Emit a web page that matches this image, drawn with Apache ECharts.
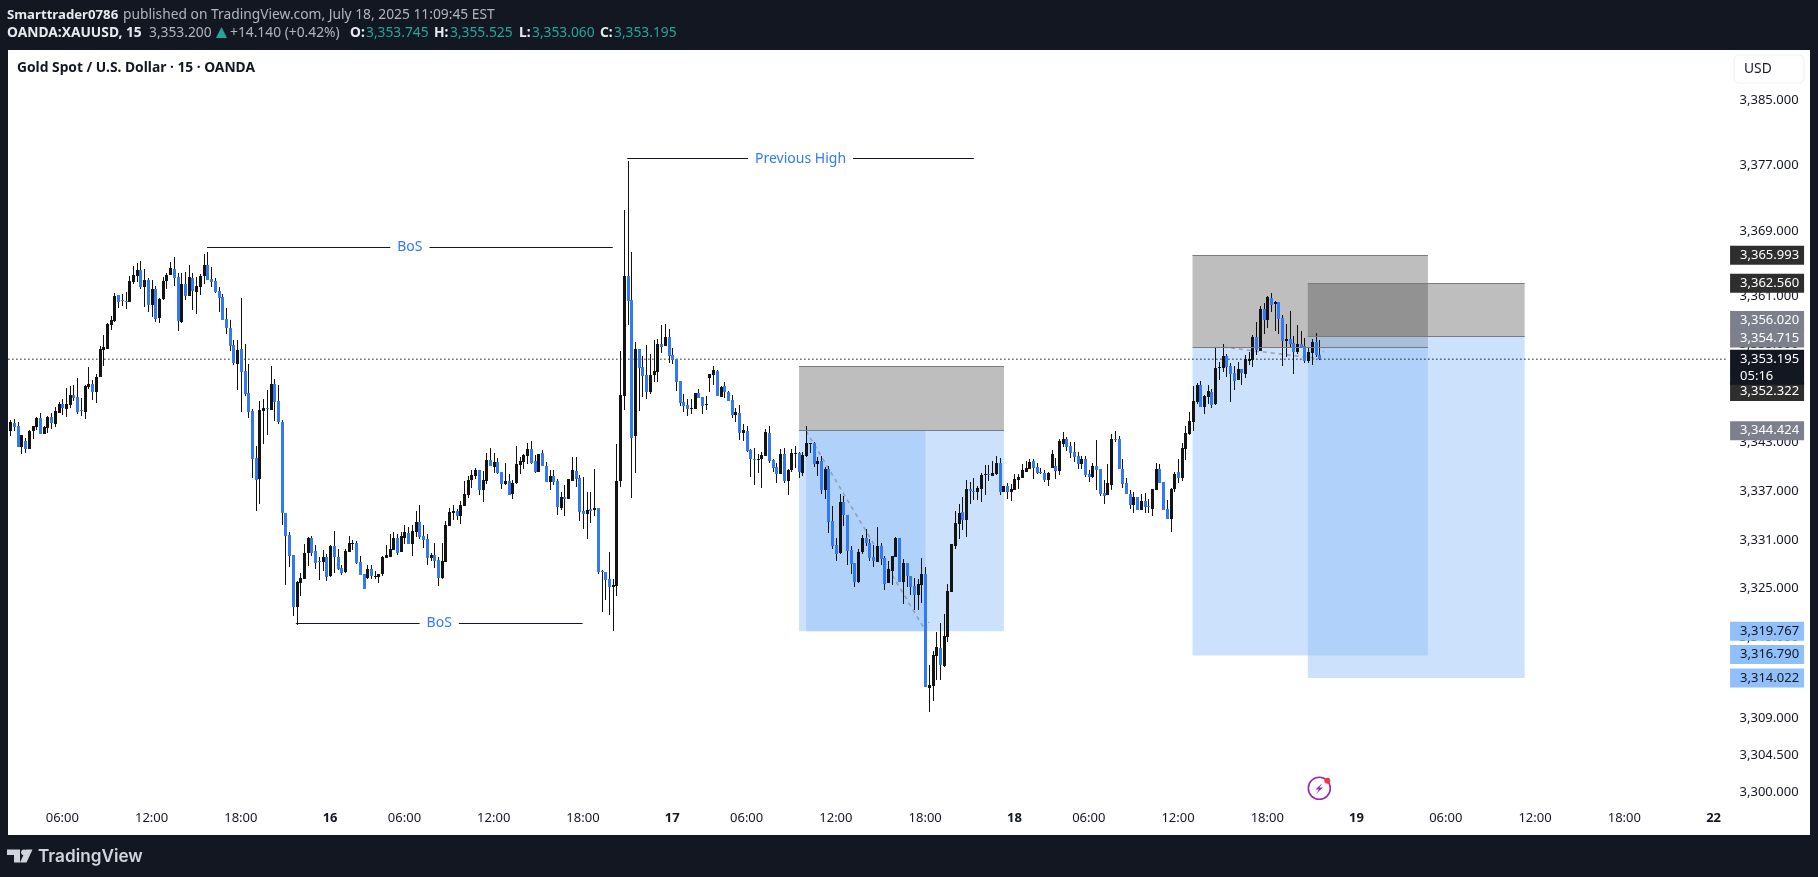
<!DOCTYPE html>
<html>
<head>
<meta charset="utf-8">
<title>Gold Spot / U.S. Dollar</title>
<script src="https://cdn.jsdelivr.net/npm/echarts@6/dist/echarts.min.js"></script>
<style>
html,body{margin:0;padding:0;background:#131722;}
#main{width:1818px;height:877px;}
</style>
</head>
<body>
<div id="main"></div>
<script>
// 15 minute candles, one line = 10 bars
var candleOpen=[
3344.4,3345.4,3345.0,3342.4,3343.1,3342.2,3344.4,3344.9,3346.0,3344.0,
3344.7,3346.1,3345.2,3346.6,3347.7,3347.1,3347.6,3348.8,3348.6,3347.0,
3346.7,3349.8,3350.2,3349.2,3351.0,3354.4,3354.5,3357.4,3357.9,3361.1,
3360.5,3360.4,3360.2,3362.7,3363.4,3364.2,3362.1,3363.0,3359.9,3361.8,
3358.3,3360.6,3362.8,3363.6,3364.3,3363.3,3357.8,3362.5,3361.0,3363.2,
3361.5,3362.1,3363.4,3364.8,3363.1,3362.8,3361.6,3360.9,3358.2,3357.0,
3355.0,3352.6,3354.5,3351.8,3349.1,3346.8,3341.1,3338.5,3346.8,3347.2,
3347.0,3350.2,3348.1,3345.5,3334.3,3331.6,3329.1,3322.7,3325.7,3326.2,
3329.4,3331.2,3329.6,3328.4,3328.3,3328.9,3326.6,3330.2,3328.9,3327.5,
3327.0,3329.5,3330.5,3330.6,3328.3,3326.8,3326.3,3327.4,3326.5,3326.4,
3326.8,3328.8,3328.9,3329.7,3331.2,3329.5,3331.2,3331.8,3330.5,3332.0,
3333.2,3331.5,3331.1,3328.8,3329.1,3328.5,3326.3,3328.3,3332.7,3334.3,
3334.5,3333.9,3335.2,3336.5,3338.4,3338.8,3339.6,3337.1,3338.2,3340.8,
3340.0,3340.6,3339.3,3337.9,3338.2,3336.6,3338.0,3340.2,3340.6,3341.3,
3342.2,3340.7,3339.3,3341.7,3340.1,3338.1,3338.8,3338.2,3334.9,3336.3,
3336.0,3338.2,3339.5,3338.6,3334.5,3334.2,3334.8,3334.7,3334.9,3327.2,
3327.0,3326.2,3325.2,3325.3,3338.2,3348.7,3363.4,3360.5,3343.8,3354.5,
3352.3,3351.3,3349.2,3351.3,3351.6,3355.1,3354.8,3355.9,3353.7,3353.2,
3350.5,3347.9,3347.6,3347.1,3347.1,3349.0,3348.6,3347.6,3350.9,3351.3,
3351.8,3348.6,3349.9,3349.2,3348.2,3346.3,3346.6,3344.1,3344.4,3342.0,
3340.9,3340.8,3340.9,3341.3,3344.1,3340.8,3339.9,3339.1,3341.5,3338.2,
3339.6,3341.6,3341.7,3339.2,3341.3,3342.8,3342.9,3340.3,3340.7,3337.1,
3339.7,3333.3,3330.4,3329.4,3335.7,3334.1,3329.8,3328.2,3325.8,3329.5,
3331.2,3330.6,3328.9,3328.3,3330.2,3328.8,3325.7,3327.2,3328.9,3331.2,
3325.8,3328.2,3326.6,3325.3,3324.2,3325.4,3326.8,3312.8,3313.0,3316.7,
3317.7,3315.5,3319.0,3324.6,3330.2,3332.9,3334.4,3333.4,3337.3,3337.0,
3336.9,3337.3,3339.0,3339.1,3338.8,3339.1,3340.5,3336.9,3337.6,3336.9,
3337.1,3338.4,3338.6,3339.3,3339.7,3340.7,3340.0,3339.3,3339.2,3338.4,
3339.8,3340.1,3339.5,3342.8,3343.4,3342.5,3341.8,3341.3,3340.3,3340.9,
3339.1,3338.7,3340.1,3339.7,3336.8,3336.5,3337.7,3343.4,3343.4,3339.7,
3338.0,3336.6,3335.3,3336.3,3334.7,3335.8,3335.2,3334.8,3337.1,3339.7,
3338.1,3334.8,3333.6,3337.2,3339.3,3338.6,3342.2,3344.0,3345.5,3348.0,
3350.0,3347.3,3348.6,3349.2,3347.7,3352.1,3352.1,3353.6,3352.4,3351.5,
3350.7,3352.0,3351.4,3353.0,3353.1,3355.9,3354.2,3359.4,3358.0,3360.7,
3360.0,3360.2,3358.3,3355.5,3355.7,3355.2,3354.1,3355.1,3354.8,3353.0,
3354.0,3355.3,3353.745];
var candleHigh=[
3345.7,3345.9,3345.5,3343.9,3343.5,3344.5,3345.0,3346.1,3346.6,3345.0,
3346.2,3346.6,3347.3,3348.0,3348.3,3349.7,3349.9,3350.0,3350.9,3348.4,
3350.0,3352.2,3350.7,3351.4,3354.8,3356.2,3357.7,3358.5,3361.4,3361.1,
3361.2,3361.5,3363.4,3364.7,3365.0,3365.3,3364.3,3363.2,3363.0,3362.2,
3360.7,3363.3,3363.8,3365.2,3365.8,3363.8,3363.8,3363.9,3364.8,3363.8,
3363.3,3363.7,3366.1,3366.4,3364.5,3363.2,3362.1,3361.2,3359.5,3358.0,
3355.6,3355.6,3360.7,3355.1,3352.6,3347.1,3342.5,3348.1,3348.3,3349.4,
3352.4,3350.8,3350.0,3345.7,3334.3,3332.0,3329.1,3325.9,3326.9,3330.5,
3331.3,3331.5,3330.4,3328.9,3329.7,3329.3,3330.4,3332.1,3329.9,3327.9,
3329.9,3331.5,3331.0,3330.9,3329.0,3326.8,3327.9,3327.9,3327.2,3326.8,
3329.0,3330.4,3331.7,3332.0,3331.7,3332.0,3332.8,3332.6,3332.8,3334.5,
3335.3,3332.8,3331.7,3329.4,3330.6,3328.9,3330.6,3333.3,3334.9,3335.3,
3334.8,3335.8,3338.2,3338.8,3339.6,3339.8,3339.6,3339.5,3341.7,3342.3,
3341.7,3341.1,3339.3,3340.4,3339.1,3338.4,3342.5,3341.2,3341.6,3342.9,
3343.2,3341.4,3341.6,3342.1,3340.6,3339.6,3339.6,3338.5,3336.9,3337.7,
3338.5,3341.2,3341.2,3339.0,3338.7,3336.9,3336.9,3339.7,3334.9,3327.3,
3327.0,3329.5,3326.2,3342.8,3354.2,3371.6,3377.6,3366.4,3355.3,3354.5,
3353.6,3354.9,3353.9,3355.6,3355.7,3357.4,3357.5,3356.9,3354.6,3353.2,
3350.5,3348.9,3348.3,3348.3,3349.0,3349.5,3348.6,3348.7,3351.4,3352.4,
3351.9,3349.9,3350.4,3349.3,3348.8,3347.2,3347.6,3345.2,3345.0,3342.2,
3342.3,3341.5,3341.8,3344.6,3345.0,3340.9,3340.4,3342.2,3342.3,3339.7,
3342.2,3342.5,3341.8,3341.8,3345.0,3342.9,3343.0,3341.2,3341.3,3339.9,
3340.1,3335.2,3331.2,3336.6,3336.4,3334.1,3330.2,3328.2,3329.9,3331.6,
3332.3,3331.1,3330.4,3332.6,3330.6,3329.0,3328.4,3329.0,3331.3,3331.2,
3328.6,3328.2,3326.6,3326.3,3326.2,3328.8,3327.7,3315.6,3317.3,3319.7,
3320.8,3321.9,3325.6,3330.5,3334.5,3335.4,3336.3,3338.4,3338.1,3338.6,
3337.6,3339.2,3340.2,3340.2,3340.7,3341.3,3341.1,3337.6,3338.0,3337.9,
3339.1,3339.1,3340.3,3340.7,3340.9,3340.9,3340.5,3339.8,3339.6,3339.3,
3342.0,3341.1,3343.4,3344.3,3343.6,3343.0,3343.0,3341.8,3341.3,3341.3,
3339.6,3340.5,3343.3,3339.7,3338.4,3340.3,3344.0,3344.4,3343.8,3340.9,
3338.6,3337.1,3336.9,3336.3,3336.6,3336.8,3336.0,3337.3,3340.5,3340.3,
3338.1,3335.9,3337.4,3339.3,3340.9,3342.9,3345.0,3346.7,3349.9,3350.3,
3350.5,3348.8,3350.0,3349.5,3354.7,3352.9,3355.1,3353.9,3352.7,3352.4,
3352.9,3352.0,3353.7,3354.1,3356.2,3357.8,3359.8,3360.1,3361.0,3361.4,
3360.4,3360.2,3358.6,3357.5,3359.1,3356.1,3357.4,3356.7,3355.8,3354.6,
3355.7,3356.4,3355.525];
var candleLow=[
3343.8,3344.4,3342.4,3341.5,3341.7,3342.2,3343.4,3344.5,3344.0,3344.0,
3344.1,3344.6,3344.9,3346.6,3346.3,3346.1,3347.2,3348.1,3346.5,3346.2,
3345.9,3349.5,3348.2,3347.8,3351.0,3352.4,3354.5,3356.8,3357.8,3359.5,
3359.8,3359.4,3360.2,3362.5,3362.7,3361.8,3359.6,3359.0,3358.4,3357.8,
3357.7,3360.5,3361.8,3363.6,3362.2,3356.7,3357.7,3360.5,3361.0,3359.3,
3358.8,3361.1,3362.5,3363.0,3362.1,3361.4,3359.0,3358.0,3356.3,3354.2,
3352.5,3349.4,3346.7,3348.7,3346.0,3338.6,3334.5,3335.4,3342.8,3343.9,
3347.0,3345.6,3345.2,3332.8,3325.5,3327.7,3321.6,3320.5,3324.1,3326.2,
3327.8,3329.0,3327.4,3326.1,3327.2,3325.9,3326.4,3326.9,3327.3,3326.7,
3326.9,3329.5,3329.7,3328.0,3326.7,3324.9,3326.2,3326.2,3326.2,3325.7,
3326.6,3328.8,3328.9,3329.7,3329.1,3329.5,3330.5,3330.5,3329.0,3331.3,
3331.1,3330.0,3327.9,3328.4,3327.5,3325.3,3326.2,3328.3,3332.7,3333.4,
3333.4,3332.9,3335.2,3336.1,3337.4,3338.5,3336.5,3335.6,3337.9,3340.1,
3339.2,3339.1,3337.3,3337.7,3336.5,3336.0,3337.9,3339.1,3339.7,3340.3,
3340.3,3339.2,3339.3,3340.1,3338.1,3337.1,3337.7,3334.1,3334.7,3333.9,
3336.0,3338.2,3337.5,3333.3,3332.3,3331.1,3333.1,3333.9,3326.8,3322.1,
3323.6,3321.8,3319.8,3324.1,3337.5,3347.0,3357.4,3336.1,3339.2,3346.8,
3348.6,3348.3,3348.9,3350.4,3350.4,3354.0,3354.8,3352.7,3352.6,3349.3,
3347.4,3346.7,3346.2,3346.5,3347.1,3348.4,3346.5,3347.0,3349.2,3350.0,
3348.7,3348.6,3348.4,3348.1,3346.0,3345.5,3343.3,3343.1,3341.8,3338.7,
3337.7,3339.2,3337.4,3341.3,3340.4,3339.3,3338.0,3339.1,3338.0,3336.5,
3339.4,3339.8,3338.6,3338.8,3341.2,3341.7,3339.9,3338.8,3336.6,3336.0,
3331.8,3329.9,3328.4,3329.3,3332.7,3327.9,3326.8,3325.2,3325.7,3329.3,
3330.2,3328.4,3327.7,3328.3,3327.9,3324.8,3325.7,3325.4,3328.9,3325.8,
3323.1,3325.2,3324.2,3322.4,3322.4,3323.2,3312.9,3309.8,3311.2,3313.8,
3313.8,3315.4,3318.4,3324.6,3329.9,3331.1,3332.2,3331.3,3335.4,3335.9,
3335.9,3335.7,3336.5,3338.2,3338.8,3339.0,3336.5,3336.9,3336.0,3335.8,
3337.1,3337.3,3338.6,3339.3,3339.7,3338.5,3339.1,3339.1,3338.1,3337.6,
3339.8,3338.5,3339.0,3342.4,3341.9,3341.1,3340.6,3339.7,3339.7,3338.7,
3338.1,3338.6,3337.1,3336.4,3335.4,3336.5,3337.1,3343.0,3339.7,3337.4,
3336.6,3334.8,3334.3,3334.7,3334.7,3334.3,3334.3,3333.9,3337.1,3338.0,
3334.7,3333.6,3332.0,3336.9,3338.0,3338.3,3340.8,3343.9,3344.4,3347.7,
3347.3,3346.5,3347.7,3347.2,3347.6,3350.7,3351.6,3351.0,3347.9,3349.4,
3350.7,3350.0,3350.9,3352.5,3352.2,3353.7,3354.2,3356.3,3357.0,3359.0,
3356.7,3356.3,3352.4,3353.5,3354.7,3351.4,3353.9,3354.6,3352.7,3352.7,
3352.5,3353.5,3353.06];
var candleClose=[
3345.5,3344.9,3342.4,3343.9,3342.2,3344.4,3345.0,3346.0,3344.0,3344.9,
3346.1,3345.4,3346.8,3347.7,3347.2,3347.7,3348.8,3348.4,3346.7,3346.8,
3349.9,3350.2,3349.2,3351.0,3354.5,3354.7,3357.5,3358.0,3361.0,3360.2,
3360.4,3360.2,3362.8,3363.6,3364.2,3362.1,3363.0,3359.9,3361.8,3358.2,
3360.6,3362.8,3363.6,3364.4,3363.2,3357.9,3362.5,3361.0,3363.3,3361.6,
3362.2,3363.4,3364.8,3363.0,3362.7,3361.5,3360.7,3358.0,3357.0,3354.8,
3352.7,3354.3,3351.6,3348.9,3346.7,3340.9,3338.4,3347.0,3347.2,3347.1,
3350.2,3347.9,3345.5,3334.3,3331.5,3329.0,3322.7,3325.8,3326.3,3329.4,
3331.2,3329.4,3328.1,3328.3,3328.9,3326.4,3330.2,3328.9,3327.4,3326.9,
3329.6,3330.6,3330.6,3328.1,3326.7,3324.9,3327.4,3326.6,3326.6,3326.8,
3328.9,3329.1,3329.9,3331.2,3329.4,3331.5,3332.0,3330.5,3332.1,3333.2,
3331.3,3331.0,3328.8,3329.1,3328.4,3326.3,3328.4,3332.8,3334.4,3334.5,
3333.9,3335.3,3336.6,3338.4,3339.0,3339.6,3337.1,3338.4,3340.8,3340.1,
3340.6,3339.2,3337.9,3338.2,3336.5,3338.0,3340.3,3340.7,3341.4,3342.2,
3340.5,3339.3,3341.6,3340.1,3338.1,3338.8,3338.1,3335.0,3336.3,3336.0,
3338.5,3339.6,3338.5,3334.4,3334.2,3334.7,3334.5,3334.9,3327.0,3327.0,
3326.1,3325.2,3325.5,3338.2,3348.8,3363.4,3360.4,3343.5,3354.5,3352.1,
3351.1,3349.2,3351.3,3351.8,3355.1,3354.7,3355.9,3353.6,3353.1,3350.4,
3347.8,3347.4,3347.1,3347.2,3349.0,3348.4,3347.4,3347.7,3351.4,3351.9,
3348.7,3349.8,3349.2,3348.1,3346.3,3346.7,3344.1,3344.5,3341.9,3340.9,
3340.8,3340.9,3341.4,3344.3,3340.7,3339.8,3339.1,3341.5,3338.2,3339.6,
3341.7,3341.7,3339.3,3341.4,3342.9,3342.9,3340.3,3340.7,3337.1,3339.7,
3333.2,3330.2,3329.3,3335.7,3334.1,3329.6,3328.0,3325.8,3329.5,3331.2,
3330.6,3328.8,3328.4,3330.2,3328.6,3325.6,3327.4,3329.0,3331.2,3325.8,
3328.2,3326.6,3325.2,3324.2,3325.6,3326.8,3312.9,3313.1,3316.8,3317.8,
3315.6,3319.2,3324.7,3330.5,3333.1,3334.3,3333.4,3337.3,3337.0,3336.9,
3337.4,3339.0,3339.1,3339.0,3339.2,3340.5,3336.9,3337.6,3336.9,3337.3,
3338.5,3338.7,3339.6,3339.8,3340.6,3339.8,3339.2,3339.2,3338.4,3339.2,
3341.6,3339.5,3343.2,3343.4,3342.4,3341.7,3341.2,3340.3,3340.9,3339.0,
3338.7,3340.1,3339.6,3336.6,3336.4,3338.0,3343.4,3343.3,3339.7,3337.9,
3336.6,3335.3,3336.3,3334.7,3335.8,3335.0,3335.0,3337.3,3339.7,3338.0,
3334.7,3333.6,3337.3,3339.1,3338.6,3342.3,3344.1,3345.6,3348.1,3350.0,
3347.3,3348.7,3349.3,3347.6,3352.1,3352.2,3353.6,3352.2,3351.4,3350.5,
3352.0,3351.5,3353.2,3353.2,3355.9,3354.3,3359.4,3358.0,3360.9,3359.9,
3360.2,3358.2,3355.5,3355.7,3355.1,3354.1,3355.1,3354.7,3353.0,3354.1,
3355.3,3353.7,3353.195];

// time axis: bar number of each label (17:00 break makes the first block after midnight shorter)
var timeTickBars=[14,38,62,86,106,130,154,178,198,222,246,270,290,314,338,362,386,410,434,458];
var timeTickText=["06:00","12:00","18:00","16","06:00","12:00","18:00","17","06:00","12:00","18:00","18","06:00","12:00","18:00","19","06:00","12:00","18:00","22"];
var barSlots=462;

var priceTicks=[3385,3377,3369,3361,3355,3349,3343,3337,3331,3325,3319,3314,3309,3304.5,3300];

// long/short position boxes, x in bars
var zoneStart=[212.1,214.0,212.1,317.9,317.9,348.9,348.9];
var zoneEnd=[267.2,246.1,267.2,381.2,381.2,407.2,407.2];
var zoneTop=[3344.424,3344.424,3352.322,3354.715,3365.993,3356.020,3362.560];
var zoneBottom=[3319.767,3319.767,3344.424,3316.790,3354.715,3314.022,3356.020];
var zoneKind=[0,0,1,0,1,0,1];

// hand drawn levels
var levelNames=["Previous High","BoS","BoS"];
var levelFrom=[165.9,52.9,76.8];
var levelTo=[259.1,162.0,153.9];
var levelPrice=[3377.87,3366.97,3320.74];

// dashed projections
var projectionA=[[214.0,3344.4],[246.0,3319.9],[247.0,3320.9]];
var projectionB=[[326.1,3354.7],[351.7,3353.3],[353.2,3354.2]];

var lastPrice=3353.195;

// price tags on the right
var tagPrices=[3365.993,3362.560,3356.020,3354.715,3352.322,3344.424,3319.767,3316.790,3314.022];
var tagShift=[0,0,-16,-9,25,0,0,-1,0];
var tagKind=["dark","dark","gray","gray","dark","gray","blue","blue","blue"];

var FONT="'Noto Sans',sans-serif";
var TEXT="#131722";
var UP="#131313";
var DOWN="#3179f5";
var tagFill={dark:"#2e2e2e",gray:"#7c7f8c",blue:"#90bff9"};
var tagInk={dark:"#ffffff",gray:"#ffffff",blue:"#131722"};

function money(v){
    return v.toLocaleString("en-US",{minimumFractionDigits:3,maximumFractionDigits:3});
}

var categories=[];
for(var i=0;i<barSlots;i++) categories.push("");
for(var i=0;i<timeTickBars.length;i++) categories[timeTickBars[i]]=timeTickText[i];

var candleRows=[];
for(var i=0;i<candleOpen.length;i++){
    candleRows.push([i,candleOpen[i],candleHigh[i],candleLow[i],candleClose[i]]);
}

var zoneRows=[];
for(var i=0;i<zoneStart.length;i++){
    zoneRows.push([zoneStart[i],zoneEnd[i],zoneTop[i],zoneBottom[i],zoneKind[i]]);
}

var levelLines=[];
for(var i=0;i<levelNames.length;i++){
    levelLines.push([
        {name:levelNames[i],coord:[levelFrom[i],levelPrice[i]]},
        {coord:[levelTo[i],levelPrice[i]]}
    ]);
}
// thin gray edge along box tops and entries
var edgeLines=[];
for(var i=0;i<zoneStart.length;i++){
    if(zoneKind[i]==1){
        edgeLines.push([{coord:[zoneStart[i],zoneTop[i]],name:""},{coord:[zoneEnd[i],zoneTop[i]]}]);
        edgeLines.push([{coord:[zoneStart[i],zoneBottom[i]],name:""},{coord:[zoneEnd[i],zoneBottom[i]]}]);
    }
}

var tagRows=[];
for(var i=0;i<tagPrices.length;i++){
    tagRows.push({
        value:[barSlots-0.5,tagPrices[i]],
        label:{
            offset:[0,tagShift[i]],
            backgroundColor:tagFill[tagKind[i]],
            color:tagInk[tagKind[i]],
            formatter:money(tagPrices[i])
        }
    });
}
tagRows.push({
    value:[barSlots-0.5,lastPrice],
    label:{
        offset:[0,8],
        backgroundColor:"#131722",
        color:"#ffffff",
        height:35,
        lineHeight:17,
        formatter:money(lastPrice)+"\n05:16"
    }
});

function renderCandle(params,api){
    var o=api.value(1),h=api.value(2),l=api.value(3),c=api.value(4);
    var x=Math.round(api.coord([api.value(0),o])[0]);
    var hy=Math.round(api.coord([api.value(0),h])[1]);
    var ly=Math.round(api.coord([api.value(0),l])[1]);
    var ty=Math.round(api.coord([api.value(0),Math.max(o,c)])[1]);
    var by=Math.round(api.coord([api.value(0),Math.min(o,c)])[1]);
    return {type:"group",children:[
        {type:"rect",shape:{x:x,y:hy,width:1,height:Math.max(ly-hy,1)},style:{fill:"#111111"}},
        {type:"rect",shape:{x:x-1,y:ty,width:3,height:Math.max(by-ty,1)},style:{fill:c>=o?UP:DOWN}}
    ]};
}

function renderZone(params,api){
    var a=api.coord([api.value(0),api.value(2)]);
    var b=api.coord([api.value(1),api.value(3)]);
    return {type:"rect",shape:{x:a[0],y:a[1],width:b[0]-a[0],height:b[1]-a[1]},
        style:{fill:api.value(4)==1?"rgba(54,54,54,0.32)":"rgba(144,191,249,0.46)"}};
}

function headText(x,y,text,color,weight,size){
    return {type:"text",x:x,y:y,style:{text:text,fill:color,font:(weight||"normal")+" "+(size||13.8)+"px "+FONT,verticalAlign:"middle"}};
}

var myChart=echarts.init(document.getElementById("main"),null,{renderer:"canvas"});
var option={
    animation:false,
    backgroundColor:"#131722",
    textStyle:{fontFamily:FONT},
    graphic:{elements:[
        {type:"rect",z:-10,shape:{x:8,y:50,width:1802,height:785},style:{fill:"#ffffff"}},
        headText(7,15,"Smarttrader0786","#e8eaf0","bold",13.2),
        headText(123,15,"published on TradingView.com, July 18, 2025 11:09:45 EST","#b2b5be"),
        headText(7,33,"OANDA:XAUUSD, 15","#e8eaf0","bold"),
        headText(149,33,"3,353.200","#b2b5be"),
        {type:"polygon",shape:{points:[[221.5,27],[227,38],[216,38]]},style:{fill:"#26a69a"}},
        headText(230,33,"+14.140 (+0.42%)","#b2b5be"),
        headText(350,33,"O:","#e8eaf0","bold"),
        headText(366,33,"3,353.745","#26a69a"),
        headText(434,33,"H:","#e8eaf0","bold"),
        headText(450,33,"3,355.525","#26a69a"),
        headText(519,33,"L:","#e8eaf0","bold"),
        headText(532,33,"3,353.060","#26a69a"),
        headText(600,33,"C:","#e8eaf0","bold"),
        headText(614,33,"3,353.195","#26a69a"),
        headText(17,68,"Gold Spot / U.S. Dollar · 15 · OANDA","#131722","bold"),
        {type:"rect",shape:{x:1734,y:55,width:70,height:28,r:5},style:{fill:"#ffffff",stroke:"#eef0f3",lineWidth:1}},
        headText(1744,69,"USD","#131722"),
        // bolt badge
        {type:"circle",shape:{cx:1319.3,cy:788.3,r:11},style:{fill:"none",stroke:"#9c27b0",lineWidth:1.6}},
        {type:"polygon",shape:{points:[[1322.5,783],[1315.5,789.5],[1319,789.5],[1316,794],[1323,787.5],[1319.5,787.5]]},style:{fill:"#9c27b0"}},
        {type:"circle",shape:{cx:1327.3,cy:780.7,r:3},style:{fill:"#f23645"}},
        // logo
        {type:"polygon",shape:{points:[[7,849.5],[20,849.5],[20,862.5],[14,862.5],[14,855],[7,855]]},style:{fill:"#d1d4dc"}},
        {type:"circle",shape:{cx:24,cy:852.3,r:2.9},style:{fill:"#d1d4dc"}},
        {type:"polygon",shape:{points:[[26,849.5],[32.5,849.5],[26.5,862.5],[20,862.5]]},style:{fill:"#d1d4dc"}},
        {type:"text",x:38,y:857,style:{text:"TradingView",fill:"#d1d4dc",font:"600 17.2px Inter,sans-serif",verticalAlign:"middle"}}
    ]},
    grid:{left:8.4,top:50,width:barSlots*3.719,height:755,containLabel:false},
    xAxis:[{
        type:"category",
        data:categories,
        boundaryGap:true,
        axisLine:{show:false},
        axisTick:{show:false},
        splitLine:{show:false},
        axisLabel:{
            margin:7,
            fontSize:13,
            color:TEXT,
            fontFamily:FONT,
            interval:function(idx,val){return val!=="";},
            formatter:function(val){return /:/.test(val)?val:"{d|"+val+"}";},
            rich:{d:{fontSize:13,fontWeight:"bold",color:TEXT,fontFamily:FONT}}
        }
    },{
        // hidden bar ruler for drawings, allows fractions of a bar
        type:"value",
        min:-0.5,
        max:barSlots-0.5,
        show:false,
        splitLine:{show:false}
    }],
    yAxis:{
        type:"value",
        position:"right",
        min:3298.40,
        max:3391.234,
        axisLine:{show:false},
        axisTick:{show:false},
        splitLine:{show:false},
        axisLabel:{
            customValues:priceTicks,
            margin:13,
            fontSize:13,
            color:TEXT,
            fontFamily:FONT,
            formatter:function(v){return money(v);}
        }
    },
    series:[{
        name:"zones",
        type:"custom",
        xAxisIndex:1,
        z:1,
        encode:{x:[0,1],y:[2,3]},
        renderItem:renderZone,
        data:zoneRows,
        silent:true
    },{
        name:"projection A",
        type:"line",
        xAxisIndex:1,
        z:2,
        symbol:"none",
        lineStyle:{color:"#8a8f9a",width:1.5,type:[4,4],opacity:0.8},
        data:projectionA,
        silent:true
    },{
        name:"projection B",
        type:"line",
        xAxisIndex:1,
        z:2,
        symbol:"none",
        lineStyle:{color:"#8a8f9a",width:1.5,type:[4,4],opacity:0.8},
        data:projectionB,
        silent:true
    },{
        name:"last price",
        type:"line",
        xAxisIndex:1,
        z:2,
        symbol:"none",
        lineStyle:{color:"#131722",width:1.5,type:[1,3]},
        data:[[-0.5,lastPrice],[barSlots-0.5,lastPrice]],
        silent:true,
        markLine:{
            silent:true,
            symbol:["none","none"],
            animation:false,
            lineStyle:{color:"#131722",width:1,type:"solid"},
            label:{
                show:true,
                position:"insideMiddle",
                formatter:"{b}",
                color:DOWN,
                fontSize:14,
                fontFamily:FONT,
                backgroundColor:"#ffffff",
                padding:[1,7]
            },
            data:levelLines
        }
    },{
        name:"box edges",
        type:"line",
        xAxisIndex:1,
        z:2,
        symbol:"none",
        lineStyle:{width:0},
        data:[],
        silent:true,
        markLine:{
            silent:true,
            symbol:["none","none"],
            animation:false,
            lineStyle:{color:"#787b86",width:1,type:"solid"},
            label:{show:false},
            data:edgeLines
        }
    },{
        name:"XAUUSD",
        type:"custom",
        xAxisIndex:0,
        z:3,
        encode:{x:0,y:[1,2,3,4]},
        renderItem:renderCandle,
        data:candleRows,
        silent:true
    },{
        name:"price tags",
        type:"scatter",
        xAxisIndex:1,
        z:6,
        symbolSize:1,
        itemStyle:{color:"rgba(0,0,0,0)",opacity:1},
        clip:false,
        silent:true,
        label:{
            show:true,
            position:"right",
            distance:3,
            fontSize:13,
            fontFamily:FONT,
            width:64,
            height:19,
            lineHeight:19,
            padding:[0,0,0,10]
        },
        data:tagRows
    }]
};
myChart.setOption(option);
</script>
</body>
</html>
